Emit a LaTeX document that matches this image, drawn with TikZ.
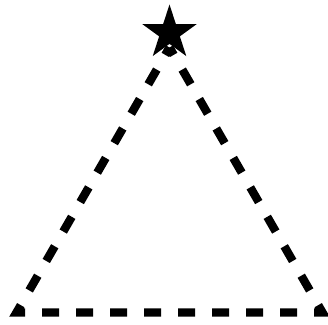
\documentclass[tikz,border=0pt]{standalone}
\usepackage{tikz}
\usetikzlibrary{shapes.geometric}

\begin{document}
\begin{tikzpicture}[x=1pt, y=1pt,
    edge/.style={line width=8.4pt, dash pattern=on 17pt off 17pt, dash phase=8.5pt},
    starmark/.style={star, star points=5, star point ratio=2.618, fill=black, minimum size=57pt, inner sep=0pt}]
  \useasboundingbox (0,0) rectangle (328,324);

  % Corners
  \coordinate (left) at (16.5, 11.5);
  \coordinate (right) at (322.5, 11.5);
  \coordinate (top) at (169.5, 276.5);

  % Dashed triangle
  \draw[edge] (top) -- (left) -- (right) -- cycle;

  % Star on the top corner
  \node[starmark] (topstar) at (169.5, 291.0) {};
\end{tikzpicture}
\end{document}
